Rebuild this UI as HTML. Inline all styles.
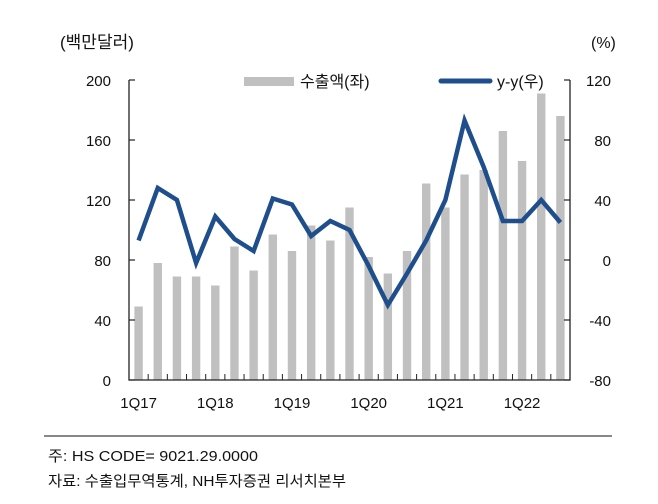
<!DOCTYPE html>
<html><head><meta charset="utf-8"><style>
html,body{margin:0;padding:0;background:#fff;}
svg text{font-family:"Liberation Sans","Noto Sans CJK KR",sans-serif;fill:#111;}
</style></head><body>
<svg id="chart" width="658" height="499" viewBox="0 0 658 499" xmlns="http://www.w3.org/2000/svg">
<text x="60" y="48" font-size="17">(백만달러)</text>
<text x="591" y="48" font-size="16">(%)</text>
<g id="bars"></g>
<g id="axes"></g>
<g id="line"></g>
<g>
<rect x="244" y="77" width="50" height="9" fill="#c0c0c0"/>
<text x="300" y="87" font-size="16">수출액(좌)</text>
<line x1="441" y1="81" x2="490" y2="81" stroke="#1f4e8c" stroke-width="5" stroke-linecap="round"/>
<text x="497" y="87" font-size="16">y-y(우)</text>
</g>
<line x1="44" y1="436" x2="612" y2="436" stroke="#888" stroke-width="2"/>
<text x="48" y="461" font-size="15" textLength="210" lengthAdjust="spacingAndGlyphs">주: HS CODE= 9021.29.0000</text>
<text x="48" y="486" font-size="15" textLength="298" lengthAdjust="spacingAndGlyphs">자료:  수출입무역통계, NH투자증권 리서치본부</text>
</svg>
<script>
const categories = ["1Q17","2Q17","3Q17","4Q17","1Q18","2Q18","3Q18","4Q18","1Q19","2Q19","3Q19","4Q19","1Q20","2Q20","3Q20","4Q20","1Q21","2Q21","3Q21","4Q21","1Q22","2Q22","3Q22"];
const exportValues = [49,78,69,69,63,89,73,97,86,103,93,115,82,71,86,131,115,137,140,166,146,191,176];
const yoyValues = [13,48,40,-2,29,14,6,41,37,16,26,20,-4,-30,-9,13,40,93,62,26,26,40,25];
const leftTicks = [0,40,80,120,160,200];
const rightTicks = [-80,-40,0,40,80,120];
const xLabels = ["1Q17","1Q18","1Q19","1Q20","1Q21","1Q22"];
const NS="http://www.w3.org/2000/svg";
const X0=129,X1=570,Y0=380,Y1=80;
const band=(X1-X0)/categories.length;
const xC=i=>X0+band*(i+0.5);
const yL=v=>Y0-(v-0)/(200-0)*(Y0-Y1);
const yR=v=>Y0-(v+80)/(200)*(Y0-Y1);
function mk(tag,attrs,parent){const e=document.createElementNS(NS,tag);for(const k in attrs)e.setAttribute(k,attrs[k]);parent.appendChild(e);return e;}
const gb=document.getElementById('bars'),ga=document.getElementById('axes'),gl=document.getElementById('line');
exportValues.forEach((v,i)=>{
 const r=mk('rect',{x:xC(i)-4.2,y:yL(v),width:8.4,height:Y0-yL(v),fill:'#c0c0c0'},gb);
 
 
});
const ax=mk('path',{d:`M${X0},${Y1}V${Y0}H${X1}V${Y1}`,fill:'none',stroke:'#222','stroke-width':1.3},ga);


leftTicks.forEach(t=>{
 const y=yL(t);
 mk('line',{x1:X0,x2:X0+6,y1:y,y2:y,stroke:'#222','stroke-width':1.2},ga);
 const tx=mk('text',{x:111,y:y+6,'font-size':15,'text-anchor':'end'},ga);tx.textContent=t;
 
 
});
rightTicks.forEach(t=>{
 const y=yR(t);
 mk('line',{x1:X1-6,x2:X1,y1:y,y2:y,stroke:'#222','stroke-width':1.2},ga);
 const tx=mk('text',{x:611,y:y+6,'font-size':15,'text-anchor':'end'},ga);tx.textContent=t;
 
 
});
for(let i=1;i<categories.length;i++){const x=X0+band*i;mk('line',{x1:x,x2:x,y1:Y0-6,y2:Y0,stroke:'#222','stroke-width':1},ga);}
categories.forEach((c,i)=>{
 if(xLabels.indexOf(c)<0)return;
 const tx=mk('text',{x:xC(i),y:408,'font-size':15,'text-anchor':'middle'},ga);tx.textContent=c;
 
 
});
const p=mk('polyline',{points:yoyValues.map((v,i)=>xC(i)+','+yR(v)).join(' '),fill:'none',stroke:'#1f4e8c','stroke-width':4.5,'stroke-linejoin':'miter'},gl);


</script>
</body></html>
